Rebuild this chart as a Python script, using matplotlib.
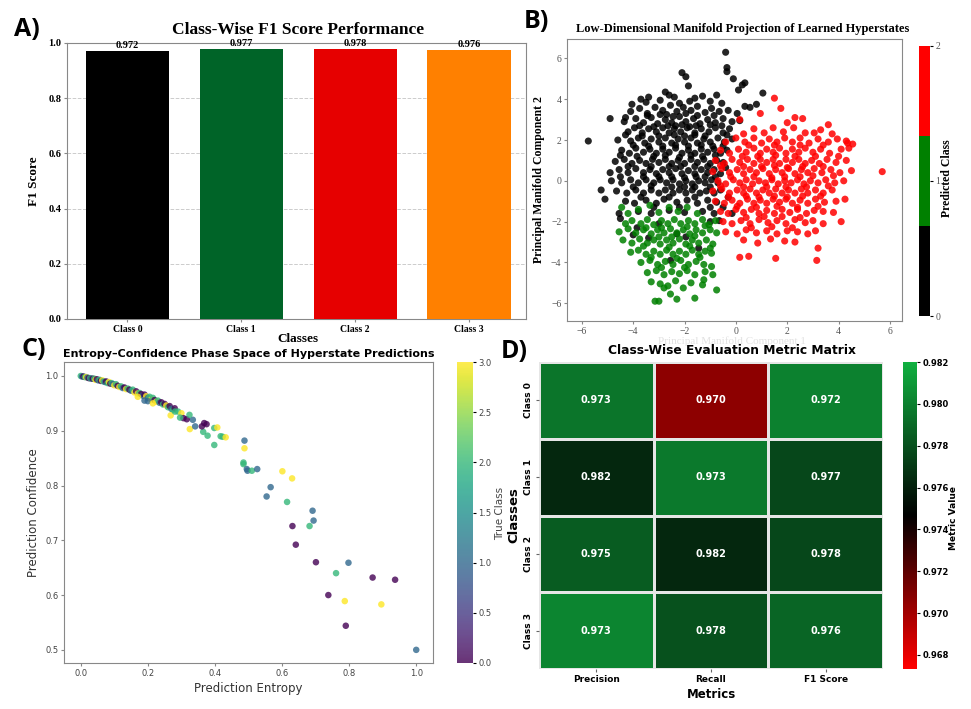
import numpy as np
import matplotlib
matplotlib.use("Agg")
import matplotlib.pyplot as plt
from matplotlib.colors import ListedColormap, LinearSegmentedColormap, Normalize
import matplotlib.cm as cm

# ---- panel A data
classes = ["Class 0", "Class 1", "Class 2", "Class 3"]
f1_scores = [0.972, 0.977, 0.978, 0.976]
bar_colors = ["#000000", "#006428", "#e60000", "#ff8000"]

pts_class0 = [
    (-5.75, 1.95), (-4.9, 3.05), (-4.3, 3.1), (-4.05, 3.75), (-3.7, 4.0), (-3.4, 4.1), (-2.75, 4.35),
    (-2.1, 5.3), (-1.95, 5.1), (-1.85, 4.65), (-0.4, 6.3), (-0.35, 5.55), (-0.35, 5.35), (-0.1, 5.0),
    (0.1, 4.45), (0.25, 4.7), (0.35, 4.8), (1.05, 4.3), (0.8, 3.75), (0.55, 3.6), (0.35, 3.65),
    (-5.25, -0.45), (-5.1, -0.9), (-4.55, -1.6), (-4.5, -1.85),
    (-3.5, 3.85), (-2.95, 3.95), (-2.6, 4.2), (-2.4, 4.1), (-2.2, 3.8), (-1.6, 4.05), (-1.3, 4.15),
    (-1.0, 3.9), (-0.75, 4.2), (-1.8, 3.9), (-0.55, 3.8),
    (-4.1, 3.4), (-3.75, 3.55), (-3.45, 3.3), (-3.15, 3.6), (-2.85, 3.45), (-2.55, 3.7), (-2.3, 3.4),
    (-2.05, 3.6), (-1.75, 3.45), (-1.5, 3.65), (-1.2, 3.35), (-0.95, 3.55), (-0.65, 3.4), (-0.3, 3.45),
    (0.05, 3.3), (-2.7, 3.25), (-1.95, 3.3),
    (-4.35, 2.9), (-3.9, 3.05), (-3.6, 2.85), (-3.3, 3.1), (-3.05, 2.8), (-2.75, 3.0), (-2.5, 2.85),
    (-2.2, 3.15), (-1.95, 2.9), (-1.65, 3.05), (-1.4, 2.8), (-1.1, 3.0), (-0.8, 2.85), (-0.5, 3.05),
    (-0.15, 2.9), (0.15, 2.95), (-2.35, 2.7), (-1.8, 2.65),
    (-4.2, 2.4), (-3.95, 2.6), (-3.65, 2.35), (-3.4, 2.55), (-3.1, 2.4), (-2.85, 2.6), (-2.6, 2.35),
    (-2.4, 2.55), (-2.15, 2.4), (-1.9, 2.6), (-1.6, 2.35), (-1.35, 2.55), (-1.05, 2.4), (-0.8, 2.6),
    (-0.5, 2.35), (-0.25, 2.55), (-3.0, 2.2), (-2.0, 2.2), (-1.2, 2.2),
    (-4.6, 2.0), (-4.1, 1.95), (-3.8, 2.1), (-3.55, 1.85), (-3.3, 2.05), (-3.0, 1.9), (-2.75, 2.1),
    (-2.5, 1.85), (-2.25, 2.05), (-2.0, 1.9), (-1.75, 2.1), (-1.5, 1.85), (-1.25, 2.05), (-1.0, 1.9),
    (-0.7, 2.1), (-0.45, 1.9), (-0.15, 2.05), (-2.85, 1.7), (-1.85, 1.7), (-0.9, 1.7),
    (-4.45, 1.5), (-4.15, 1.35), (-3.9, 1.6), (-3.6, 1.4), (-3.35, 1.55), (-3.1, 1.35), (-2.85, 1.55),
    (-2.6, 1.4), (-2.35, 1.6), (-2.1, 1.35), (-1.85, 1.5), (-1.6, 1.35), (-1.35, 1.55), (-1.1, 1.4),
    (-0.85, 1.55), (-0.6, 1.35), (-0.35, 1.5), (-3.2, 1.2), (-2.2, 1.15), (-1.3, 1.2),
    (-4.7, 0.95), (-4.35, 1.05), (-4.05, 0.85), (-3.75, 1.0), (-3.5, 0.85), (-3.25, 1.05), (-3.0, 0.9),
    (-2.75, 1.05), (-2.5, 0.85), (-2.25, 1.0), (-2.0, 0.85), (-1.75, 1.05), (-1.5, 0.9), (-1.25, 1.05),
    (-1.0, 0.85), (-0.75, 1.0), (-0.5, 0.9), (-2.6, 0.7), (-1.6, 0.7),
    (-4.9, 0.4), (-4.55, 0.55), (-4.2, 0.4), (-3.9, 0.6), (-3.6, 0.4), (-3.35, 0.55), (-3.1, 0.35),
    (-2.85, 0.55), (-2.6, 0.4), (-2.35, 0.6), (-2.1, 0.35), (-1.85, 0.5), (-1.6, 0.35), (-1.35, 0.55),
    (-1.1, 0.4), (-0.85, 0.55), (-0.6, 0.35), (-3.0, 0.2), (-2.0, 0.15), (-1.2, 0.2),
    (-4.85, 0.0), (-4.45, -0.1), (-4.1, 0.05), (-3.8, -0.1), (-3.5, 0.05), (-3.2, -0.1), (-2.95, 0.05),
    (-2.7, -0.1), (-2.45, 0.05), (-2.2, -0.15), (-1.95, 0.0), (-1.7, -0.15), (-1.45, 0.0), (-1.2, -0.1),
    (-0.95, 0.05), (-0.7, -0.1), (-2.5, -0.3), (-1.6, -0.3),
    (-4.65, -0.5), (-4.25, -0.6), (-3.9, -0.45), (-3.6, -0.6), (-3.3, -0.45), (-3.0, -0.6), (-2.75, -0.45),
    (-2.45, -0.6), (-2.2, -0.45), (-1.95, -0.6), (-1.7, -0.45), (-1.4, -0.6), (-1.15, -0.5), (-0.85, -0.6),
    (-0.6, -0.45),
    (-4.3, -1.0), (-3.95, -1.1), (-3.5, -0.95), (-3.1, -1.1), (-2.8, -0.9), (-2.3, -1.05), (-1.9, -0.95),
    (-1.5, -1.1), (-1.1, -0.95), (-0.75, -1.05),
    (-3.8, -1.5), (-3.3, -1.6), (-2.6, -1.45), (-2.0, -1.55), (-1.3, -1.5), (-0.85, -1.6),
    (-3.85, -2.3), (-4.0, -2.65), (-3.0, -2.1), (-2.55, -3.9), (-2.3, -2.6), (-1.45, -3.3), (-1.0, -2.0),
    (-0.65, -1.95), (-3.4, -2.8), (-1.95, -2.75), (-0.5, -1.3), (-0.3, -0.8), (-0.15, -1.6),
    (-3.45, 3.2), (-2.95, 3.25), (-2.45, 3.15), (-1.5, 3.2), (-0.85, 3.2),
    (-3.75, 2.7), (-3.2, 2.65), (-2.65, 2.7), (-2.1, 2.75), (-1.55, 2.7), (-1.0, 2.75), (-0.55, 2.7),
    (-3.65, 2.2), (-2.4, 2.25), (-1.6, 2.25), (-0.35, 2.25), (-4.3, 2.25),
    (-4.0, 1.75), (-3.4, 1.7), (-2.35, 1.75), (-1.35, 1.75), (-0.5, 1.7),
    (-3.85, 1.2), (-2.75, 1.25), (-1.75, 1.25), (-0.8, 1.25), (-4.5, 1.25),
    (-4.2, 0.7), (-3.3, 0.7), (-2.15, 0.7), (-1.1, 0.7), (-0.4, 0.65),
    (-4.5, 0.2), (-3.6, 0.2), (-2.5, 0.2), (-1.55, 0.2), (-0.8, 0.2),
    (-4.0, -0.3), (-3.3, -0.25), (-2.0, -0.3), (-1.0, -0.3),
    (-3.7, -0.8), (-2.6, -0.8), (-1.6, -0.8), (-3.2, -1.3), (-2.2, -1.3), (-1.0, -1.3),
]
pts_class1 = [
    (-3.15, -5.9), (-3.0, -5.9), (-2.3, -5.8), (-1.6, -5.75), (-0.75, -5.35), (-2.65, -5.15), (-2.8, -5.25),
    (-2.05, -5.25), (-2.55, -5.55), (-1.25, -4.85), (-4.45, -1.3),
    (-3.8, -1.4), (-3.35, -1.2), (-3.0, -1.55), (-2.6, -1.3), (-2.25, -1.5), (-1.9, -1.3), (-1.5, -1.6),
    (-4.2, -1.6),
    (-4.3, -2.1), (-4.05, -1.95), (-3.7, -2.1), (-3.45, -1.9), (-3.2, -2.15), (-2.9, -1.95), (-2.65, -2.1),
    (-2.4, -1.9), (-2.15, -2.1), (-1.85, -1.95), (-1.6, -2.1), (-1.3, -1.9), (-1.05, -2.15), (-0.8, -1.95),
    (-4.55, -2.5), (-4.2, -2.35), (-3.9, -2.55), (-3.6, -2.4), (-3.3, -2.6), (-3.05, -2.4), (-2.8, -2.55),
    (-2.55, -2.35), (-2.3, -2.55), (-2.05, -2.4), (-1.8, -2.6), (-1.55, -2.4), (-1.3, -2.55), (-1.0, -2.4),
    (-0.75, -2.55),
    (-4.4, -2.9), (-4.05, -3.05), (-3.75, -2.85), (-3.45, -3.05), (-3.2, -2.9), (-2.95, -3.1), (-2.7, -2.9),
    (-2.45, -3.05), (-2.2, -2.85), (-1.95, -3.1), (-1.7, -2.9), (-1.45, -3.05), (-1.15, -2.9), (-0.9, -3.1),
    (-4.1, -3.5), (-3.8, -3.4), (-3.5, -3.6), (-3.2, -3.45), (-2.95, -3.6), (-2.7, -3.4), (-2.45, -3.6),
    (-2.2, -3.45), (-1.95, -3.6), (-1.7, -3.4), (-1.45, -3.6), (-1.2, -3.45), (-0.95, -3.55),
    (-3.7, -4.0), (-3.35, -3.9), (-3.05, -4.1), (-2.75, -3.95), (-2.45, -4.1), (-2.15, -3.9), (-1.85, -4.1),
    (-1.55, -3.95), (-1.25, -4.1), (-0.95, -4.2),
    (-3.45, -4.5), (-3.1, -4.4), (-2.8, -4.6), (-2.5, -4.45), (-2.2, -4.55), (-1.9, -4.4), (-1.6, -4.6),
    (-1.2, -4.45), (-0.9, -4.6),
    (-3.3, -4.95), (-2.95, -5.05), (-2.35, -4.9), (-1.75, -5.0), (-1.3, -5.1),
    (-3.5, -2.3), (-2.9, -2.3), (-1.9, -2.25), (-1.2, -2.2), (-3.0, -2.75), (-2.5, -2.75), (-1.6, -2.7),
    (-3.6, -3.2), (-2.6, -3.25), (-1.8, -3.2), (-1.0, -3.3), (-3.3, -3.75), (-2.3, -3.8), (-1.4, -3.75),
    (-2.9, -4.25), (-2.0, -4.25),
]
pts_class2 = [
    (5.7, 0.45), (4.55, 1.8), (4.35, 1.85), (4.4, 1.6), (4.1, 1.55), (0.15, -3.75), (0.5, -3.7),
    (1.55, -3.8), (3.15, -3.9), (3.2, -3.3), (1.5, 4.05), (1.75, 3.55), (2.3, 3.1), (2.6, 3.05),
    (3.6, 2.75), (3.05, 2.35), (4.1, -2.0), (4.25, -0.9), (3.8, -1.55), (0.15, 3.0), (0.95, 3.3), (2.0, 2.85),
    (0.3, 2.3), (0.7, 2.55), (1.1, 2.35), (1.45, 2.6), (1.85, 2.4), (2.25, 2.6), (2.7, 2.35), (3.3, 2.5),
    (3.75, 2.3),
    (-0.4, 1.9), (0.0, 2.1), (0.35, 1.9), (0.7, 2.1), (1.0, 1.85), (1.3, 2.05), (1.6, 1.9), (1.9, 2.1),
    (2.2, 1.9), (2.5, 2.1), (2.85, 1.85), (3.2, 2.05), (3.6, 1.9), (3.95, 2.05), (4.3, 1.95),
    (-0.6, 1.5), (-0.25, 1.35), (0.1, 1.55), (0.4, 1.4), (0.7, 1.6), (0.95, 1.35), (1.2, 1.55), (1.45, 1.4),
    (1.7, 1.6), (1.95, 1.35), (2.2, 1.55), (2.45, 1.4), (2.7, 1.6), (3.0, 1.4), (3.3, 1.55), (3.65, 1.35),
    (4.0, 1.2),
    (-0.8, 1.0), (-0.45, 0.85), (-0.15, 1.05), (0.15, 0.9), (0.45, 1.05), (0.7, 0.85), (0.95, 1.05),
    (1.2, 0.9), (1.45, 1.05), (1.7, 0.85), (1.95, 1.05), (2.2, 0.9), (2.45, 1.05), (2.7, 0.85), (2.95, 1.0),
    (3.25, 0.85), (3.55, 1.05), (3.9, 0.9), (4.3, 1.0), (1.0, 0.7), (2.0, 0.65),
    (-0.9, 0.45), (-0.55, 0.6), (-0.25, 0.4), (0.05, 0.55), (0.3, 0.35), (0.55, 0.55), (0.8, 0.4),
    (1.05, 0.6), (1.3, 0.35), (1.55, 0.55), (1.8, 0.4), (2.05, 0.6), (2.3, 0.35), (2.55, 0.55), (2.8, 0.4),
    (3.05, 0.6), (3.35, 0.4), (3.7, 0.55), (4.05, 0.4), (4.5, 0.5), (1.4, 0.15), (2.5, 0.2),
    (-0.7, 0.0), (-0.4, -0.15), (-0.1, 0.05), (0.15, -0.1), (0.4, 0.05), (0.65, -0.15), (0.9, 0.0),
    (1.15, -0.1), (1.4, 0.05), (1.65, -0.15), (1.9, 0.0), (2.15, -0.1), (2.4, 0.05), (2.65, -0.15),
    (2.9, 0.0), (3.2, -0.1), (3.5, 0.05), (3.85, -0.1), (4.2, 0.0),
    (-0.9, -0.5), (-0.55, -0.4), (-0.25, -0.6), (0.05, -0.45), (0.3, -0.6), (0.55, -0.4), (0.8, -0.6),
    (1.05, -0.45), (1.3, -0.6), (1.55, -0.4), (1.8, -0.6), (2.05, -0.45), (2.3, -0.6), (2.55, -0.4),
    (2.8, -0.6), (3.1, -0.45), (3.4, -0.6), (3.75, -0.45), (0.9, -0.8), (2.0, -0.8),
    (-0.8, -1.0), (-0.45, -1.1), (-0.15, -0.95), (0.15, -1.1), (0.45, -0.9), (0.7, -1.1), (0.95, -0.95),
    (1.2, -1.1), (1.45, -0.9), (1.7, -1.05), (1.95, -0.9), (2.2, -1.1), (2.5, -0.95), (2.8, -1.1),
    (3.1, -0.9), (3.45, -1.05), (3.9, -1.0),
    (-0.6, -1.5), (-0.3, -1.6), (0.0, -1.4), (0.3, -1.55), (0.6, -1.4), (0.9, -1.6), (1.2, -1.45),
    (1.5, -1.6), (1.8, -1.4), (2.1, -1.55), (2.4, -1.4), (2.75, -1.6), (3.05, -1.45), (3.4, -1.5),
    (-0.5, -2.0), (-0.15, -2.1), (0.2, -1.95), (0.55, -2.1), (0.9, -1.9), (1.25, -2.05), (1.6, -1.95),
    (1.95, -2.1), (2.3, -1.9), (2.7, -2.05), (3.0, -1.95), (3.4, -2.1),
    (-0.4, -2.5), (0.05, -2.6), (0.4, -2.4), (0.8, -2.55), (1.2, -2.45), (1.6, -2.6), (2.0, -2.45),
    (2.4, -2.5), (2.8, -2.6), (3.1, -2.45),
    (0.3, -2.9), (0.85, -3.05), (1.35, -2.85), (1.9, -2.95), (2.3, -3.0),
    (0.5, 1.75), (1.5, 1.75), (2.5, 1.75), (3.4, 1.75),
    (0.25, 1.2), (0.85, 1.2), (1.55, 1.25), (2.3, 1.2), (3.1, 1.2),
    (-0.6, 0.75), (0.3, 0.7), (1.5, 0.75), (2.6, 0.7), (3.4, 0.7),
    (-0.2, 0.2), (0.7, 0.2), (1.9, 0.2), (3.0, 0.25), (3.8, 0.25),
    (-0.6, -0.25), (0.3, -0.3), (1.2, -0.3), (1.95, -0.3), (2.75, -0.3), (3.6, -0.25),
    (-0.3, -0.8), (0.4, -0.75), (1.5, -0.75), (2.6, -0.75), (3.3, -0.75),
    (0.05, -1.25), (0.8, -1.3), (1.6, -1.25), (2.4, -1.3), (3.2, -1.25),
    (0.4, -1.8), (1.1, -1.75), (1.8, -1.75), (2.5, -1.8),
    (0.6, -2.3), (1.4, -2.25), (2.2, -2.3),
]

# ---- panel C data: (entropy, confidence, true class)
entropy_conf = [
    (0.000, 1.000, 2), (0.004, 0.999, 1), (0.008, 0.999, 0), (0.012, 0.998, 2), (0.016, 0.998, 3),
    (0.020, 0.997, 1), (0.024, 0.996, 0), (0.028, 0.996, 2), (0.032, 0.995, 1), (0.036, 0.995, 0),
    (0.040, 0.995, 2), (0.044, 0.993, 3), (0.048, 0.994, 0), (0.052, 0.992, 1), (0.056, 0.993, 2),
    (0.060, 0.991, 0), (0.064, 0.992, 3), (0.068, 0.990, 2), (0.072, 0.989, 1), (0.076, 0.990, 0),
    (0.080, 0.987, 2), (0.084, 0.989, 3), (0.088, 0.986, 0), (0.092, 0.987, 2), (0.096, 0.985, 1),
    (0.100, 0.983, 3), (0.105, 0.985, 2), (0.110, 0.982, 0), (0.115, 0.980, 3), (0.120, 0.981, 2),
    (0.125, 0.978, 1), (0.130, 0.979, 0), (0.135, 0.976, 3), (0.140, 0.977, 2), (0.145, 0.975, 0),
    (0.150, 0.973, 1), (0.155, 0.975, 2), (0.160, 0.970, 3), (0.165, 0.972, 0), (0.170, 0.968, 3),
    (0.175, 0.969, 2), (0.180, 0.967, 0), (0.185, 0.964, 1), (0.190, 0.966, 0), (0.195, 0.963, 3),
    (0.200, 0.960, 1), (0.205, 0.962, 2), (0.210, 0.957, 3), (0.215, 0.960, 2), (0.220, 0.956, 0),
    (0.225, 0.953, 3), (0.230, 0.955, 2), (0.235, 0.951, 1), (0.240, 0.952, 0), (0.245, 0.948, 2),
    (0.250, 0.949, 0), (0.255, 0.946, 3), (0.260, 0.943, 2), (0.265, 0.945, 0), (0.270, 0.940, 1),
    (0.275, 0.938, 2), (0.280, 0.941, 0), (0.290, 0.935, 2), (0.300, 0.932, 3),
    (0.170, 0.962, 3), (0.190, 0.955, 1), (0.200, 0.954, 1), (0.215, 0.950, 3),
    (0.398, 0.905, 2), (0.407, 0.906, 3), (0.365, 0.898, 2), (0.378, 0.891, 2), (0.398, 0.874, 2),
    (0.417, 0.890, 2), (0.423, 0.889, 2), (0.432, 0.888, 3), (0.325, 0.903, 3), (0.368, 0.914, 0),
    (0.375, 0.912, 0), (0.361, 0.908, 0), (0.341, 0.908, 1), (0.334, 0.920, 1), (0.316, 0.921, 0),
    (0.306, 0.923, 0), (0.324, 0.929, 2), (0.296, 0.924, 2), (0.268, 0.928, 3), (0.281, 0.935, 2),
    (0.488, 0.882, 1), (0.488, 0.868, 3), (0.485, 0.842, 2), (0.485, 0.839, 2), (0.495, 0.830, 1),
    (0.497, 0.827, 1), (0.510, 0.827, 2), (0.526, 0.830, 1), (0.601, 0.826, 3), (0.630, 0.813, 3),
    (0.566, 0.797, 1), (0.554, 0.780, 1), (0.615, 0.770, 2), (0.691, 0.754, 1), (0.694, 0.736, 1),
    (0.631, 0.726, 0), (0.682, 0.726, 2), (0.641, 0.692, 0), (0.701, 0.660, 0), (0.798, 0.659, 1),
    (0.761, 0.640, 2), (0.870, 0.632, 0), (0.937, 0.628, 0), (0.738, 0.600, 0), (0.787, 0.589, 3),
    (0.896, 0.583, 3), (0.790, 0.544, 0), (1.000, 0.500, 1),
]

# ---- panel D data
metric_names = ["Precision", "Recall", "F1 Score"]
precision = [0.973, 0.982, 0.975, 0.973]
recall = [0.970, 0.973, 0.982, 0.978]
f1_matrix = [0.972, 0.977, 0.978, 0.976]
# shade shown in each cell (read against the colour bar)
cell_shade = [
    [0.9795, 0.9706, 0.9800],
    [0.9763, 0.9797, 0.9776],
    [0.9785, 0.9763, 0.9776],
    [0.9802, 0.9780, 0.9789],
]

W, H = 971, 709
fig = plt.figure(figsize=(W / 100, H / 100), dpi=100)


def rect(l, t, r, b):
    return [l / W, 1 - b / H, (r - l) / W, (b - t) / H]


def ftext(x, y, s, **kw):
    fig.text(x / W, 1 - y / H, s, ha="center", va="center", **kw)


serif = "Liberation Serif"
label_font = "Open Sans"

# ================= A =================
axA = fig.add_axes(rect(67, 43, 526, 319))
xpos = np.arange(len(classes))
axA.bar(xpos, f1_scores, width=0.73, color=bar_colors, zorder=3)
for x, v in zip(xpos, f1_scores):
    axA.text(x, v + 0.004, f"{v:.3f}", ha="center", va="bottom", fontsize=7.5,
             fontweight="bold", family=serif)
axA.set_xlim(-0.53, 3.5)
axA.set_ylim(0, 1.0)
axA.set_xticks(xpos)
axA.set_xticklabels(classes, fontsize=7, fontweight="bold", family=serif)
axA.set_yticks(np.arange(0, 1.01, 0.2))
axA.set_yticklabels([f"{t:.1f}" for t in np.arange(0, 1.01, 0.2)], fontsize=7.5,
                    fontweight="bold", family=serif)
axA.yaxis.grid(True, linestyle="--", color="#cccccc", linewidth=0.7, zorder=0)
for s in axA.spines.values():
    s.set_color("#888888")
axA.tick_params(length=2, color="#888888", pad=2)
axA.set_ylabel("F1 Score", fontsize=9.5, fontweight="bold", family=serif, labelpad=6)
ftext(298, 30, "Class-Wise F1 Score Performance", fontsize=12.5, fontweight="bold", family=serif)
ftext(298, 339, "Classes", fontsize=9.5, fontweight="bold", family=serif)
ftext(27, 29, "A)", fontsize=18, fontweight="bold", family=label_font)

# ================= B =================
axB = fig.add_axes(rect(567, 39, 902, 321))
cmapB = ListedColormap(["#000000", "#008000", "#ff0000"])
ptsB = np.array(pts_class0 + pts_class1 + pts_class2)
labB = np.array([0] * len(pts_class0) + [1] * len(pts_class1) + [2] * len(pts_class2))
axB.scatter(ptsB[:, 0], ptsB[:, 1], c=labB, cmap=cmapB, vmin=0, vmax=2, s=26,
            alpha=0.85, linewidths=0)
axB.set_xlim(-6.58, 6.47)
axB.set_ylim(-6.87, 6.95)
axB.set_xticks(range(-6, 7, 2))
axB.set_yticks(range(-6, 7, 2))
for lab in axB.get_xticklabels() + axB.get_yticklabels():
    lab.set_family(serif)
    lab.set_fontsize(7)
    lab.set_color("#555555")
for s in axB.spines.values():
    s.set_color("#888888")
axB.tick_params(length=2, color="#888888", pad=2)
axB.set_ylabel("Principal Manifold Component 2", fontsize=8.5, fontweight="bold",
               family=serif, labelpad=4)
ftext(743, 29, "Low-Dimensional Manifold Projection of Learned Hyperstates", fontsize=9,
      fontweight="bold", family=serif)
ftext(732, 341, "Principal Manifold Component 1", fontsize=8, family=serif, color="#e2e2e2")
ftext(536, 21, "B)", fontsize=18, fontweight="bold", family=label_font)

caxB = fig.add_axes(rect(919, 46, 930, 316))
cbB = fig.colorbar(cm.ScalarMappable(norm=Normalize(0, 2), cmap=cmapB), cax=caxB, ticks=[0, 1, 2])
cbB.outline.set_visible(False)
caxB.tick_params(length=2, labelsize=7, pad=2)
for lab in caxB.get_yticklabels():
    lab.set_family(serif)
    lab.set_color("#555555")
ftext(947, 178, "Predicted Class", fontsize=8.5, fontweight="bold", family=serif, rotation=90)

# ================= C =================
axC = fig.add_axes(rect(64, 362, 433, 663))
ec = np.array(entropy_conf)
scC = axC.scatter(ec[:, 0], ec[:, 1], c=ec[:, 2], cmap="viridis", vmin=0, vmax=3, s=22,
                  alpha=0.8, linewidths=0)
axC.set_xlim(-0.05, 1.05)
axC.set_ylim(0.476, 1.0255)
axC.set_xticks(np.arange(0, 1.01, 0.2))
axC.set_yticks(np.arange(0.5, 1.01, 0.1))
axC.tick_params(labelsize=6, labelcolor="#444444", length=2, color="#888888", pad=2)
for s in axC.spines.values():
    s.set_color("#888888")
axC.set_xlabel("Prediction Entropy", fontsize=8.5, color="#333333", labelpad=3)
axC.set_ylabel("Prediction Confidence", fontsize=8.5, color="#333333", labelpad=4)
ftext(249, 354, "Entropy\u2013Confidence Phase Space of Hyperstate Predictions", fontsize=8,
      fontweight="bold")
ftext(34, 349, "C)", fontsize=18, fontweight="bold", family=label_font)

caxC = fig.add_axes(rect(457, 362, 473, 663))
cbC = fig.colorbar(scC, cax=caxC, ticks=np.arange(0, 3.01, 0.5))
cbC.outline.set_visible(False)
caxC.tick_params(labelsize=6, labelcolor="#444444", length=2, pad=2)
ftext(500, 513, "True Class", fontsize=7.5, color="#444444", rotation=90)

# ================= D =================
axD = fig.add_axes(rect(539, 362, 883, 669))
cmapD = LinearSegmentedColormap.from_list("rkg", ["#ff0000", "#000000", "#10b040"])
normD = Normalize(0.96733, 0.982)
shade = np.array(cell_shade)
axD.pcolormesh(shade, cmap=cmapD, norm=normD, edgecolors="#e6e6e6", linewidth=0.8)
axD.set_xlim(0, 3)
axD.set_ylim(4, 0)
metric_cols = [precision, recall, f1_matrix]
for i in range(4):
    for j in range(3):
        axD.text(j + 0.5, i + 0.5, f"{metric_cols[j][i]:.3f}", ha="center", va="center",
                 color="white", fontsize=7, fontweight="bold")
axD.set_xticks(np.arange(3) + 0.5)
axD.set_xticklabels(metric_names, fontsize=6.5, fontweight="bold")
axD.set_yticks(np.arange(4) + 0.5)
axD.set_yticklabels(classes, fontsize=6.5, fontweight="bold", rotation=90, va="center")
for s in axD.spines.values():
    s.set_visible(False)
axD.tick_params(length=2, color="#666666", pad=2)
axD.set_xlabel("Metrics", fontsize=8.5, fontweight="bold", labelpad=3)
axD.set_ylabel("Classes", fontsize=9.5, fontweight="bold", labelpad=3)
ftext(732, 351, "Class-Wise Evaluation Metric Matrix", fontsize=8.8, fontweight="bold")
ftext(514, 352, "D)", fontsize=18, fontweight="bold", family=label_font)

caxD = fig.add_axes(rect(903, 362, 917, 669))
cbD = fig.colorbar(cm.ScalarMappable(norm=normD, cmap=cmapD), cax=caxD,
                   ticks=np.arange(0.968, 0.9821, 0.002))
cbD.outline.set_visible(False)
caxD.set_yticklabels([f"{t:.3f}" for t in np.arange(0.968, 0.9821, 0.002)])
caxD.tick_params(labelsize=6, length=2, pad=2)
for lab in caxD.get_yticklabels():
    lab.set_fontweight("bold")
ftext(953, 518, "Metric Value", fontsize=6.5, fontweight="bold", rotation=90)

fig.savefig("out.png", dpi=100)
